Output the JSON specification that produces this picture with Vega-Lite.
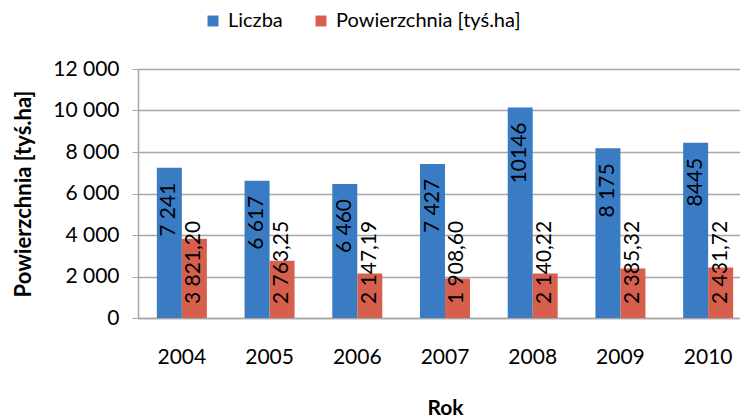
{
  "$schema": "https://vega.github.io/schema/vega-lite/v6.json",
  "autosize": {"type": "none"},
  "padding": {"left": 138, "top": 69, "right": 0, "bottom": 99},
  "width": 614,
  "height": 249,
  "background": "white",
  "config": {
    "font": "Lato",
    "view": {"stroke": null}
  },
  "data": {
    "values": [
      {"rok": "2004", "seria": "Liczba", "wartosc": 7241, "etykieta": "7 241"},
      {"rok": "2005", "seria": "Liczba", "wartosc": 6617, "etykieta": "6 617"},
      {"rok": "2006", "seria": "Liczba", "wartosc": 6460, "etykieta": "6 460"},
      {"rok": "2007", "seria": "Liczba", "wartosc": 7427, "etykieta": "7 427"},
      {"rok": "2008", "seria": "Liczba", "wartosc": 10146, "etykieta": "10146"},
      {"rok": "2009", "seria": "Liczba", "wartosc": 8175, "etykieta": "8 175"},
      {"rok": "2010", "seria": "Liczba", "wartosc": 8445, "etykieta": "8445"},
      {"rok": "2004", "seria": "Powierzchnia [tyś.ha]", "wartosc": 3821.20, "etykieta": "3 821,20"},
      {"rok": "2005", "seria": "Powierzchnia [tyś.ha]", "wartosc": 2763.25, "etykieta": "2 763,25"},
      {"rok": "2006", "seria": "Powierzchnia [tyś.ha]", "wartosc": 2147.19, "etykieta": "2 147,19"},
      {"rok": "2007", "seria": "Powierzchnia [tyś.ha]", "wartosc": 1908.60, "etykieta": "1 908,60"},
      {"rok": "2008", "seria": "Powierzchnia [tyś.ha]", "wartosc": 2140.22, "etykieta": "2 140,22"},
      {"rok": "2009", "seria": "Powierzchnia [tyś.ha]", "wartosc": 2385.32, "etykieta": "2 385,32"},
      {"rok": "2010", "seria": "Powierzchnia [tyś.ha]", "wartosc": 2431.72, "etykieta": "2 431,72"}
    ]
  },
  "encoding": {
    "x": {
      "field": "rok", "type": "nominal",
      "scale": {"paddingInner": 0.43, "paddingOuter": 0.215},
      "axis": {
        "title": "Rok", "titleFontSize": 21, "titleFontWeight": "bold", "titleColor": "#000000", "titlePadding": 30,
        "labelAngle": 0, "labelFontSize": 21, "labelColor": "#000000", "labelPadding": 28,
        "ticks": false, "domainColor": "#a6a6a6", "domainWidth": 1.5, "grid": false
      }
    },
    "xOffset": {"field": "seria", "type": "nominal", "sort": ["Liczba", "Powierzchnia [tyś.ha]"]},
    "y": {
      "field": "wartosc", "type": "quantitative",
      "scale": {"domain": [0, 12000], "nice": false},
      "axis": {
        "title": "Powierzchnia [tyś.ha]", "titleFontSize": 22, "titleFontWeight": "bold", "titleColor": "#000000", "titlePadding": 17,
        "values": [0, 2000, 4000, 6000, 8000, 10000, 12000],
        "labelExpr": "replace(format(datum.value, ',d'), ',', ' ')",
        "labelFontSize": 21, "labelColor": "#000000", "labelPadding": 13,
        "tickColor": "#a6a6a6", "tickSize": 6, "domainColor": "#a6a6a6", "domainWidth": 1.5,
        "gridColor": "#a6a6a6", "gridWidth": 1.5
      }
    }
  },
  "layer": [
    {
      "mark": {"type": "bar"},
      "encoding": {
        "color": {
          "field": "seria", "type": "nominal",
          "scale": {"domain": ["Liczba", "Powierzchnia [tyś.ha]"], "range": ["#3A7CC4", "#D6604D"]},
          "legend": {
            "title": null, "orient": "none", "direction": "horizontal",
            "legendX": 65, "legendY": -58,
            "symbolType": "square", "symbolSize": 120, "symbolStrokeWidth": 0,
            "labelFontSize": 20, "labelColor": "#000000", "labelOffset": 5, "labelLimit": 400,
            "columnPadding": 28
          }
        }
      }
    },
    {
      "transform": [{"filter": "datum.seria === 'Liczba'"}],
      "mark": {"type": "text", "angle": 270, "align": "right", "baseline": "middle", "dx": -15, "fontSize": 21, "color": "#000000"},
      "encoding": {"text": {"field": "etykieta"}}
    },
    {
      "transform": [{"filter": "datum.seria !== 'Liczba'"}],
      "mark": {"type": "text", "angle": 270, "align": "left", "baseline": "middle", "dx": 14, "fontSize": 21, "color": "#000000"},
      "encoding": {"text": {"field": "etykieta"}, "y": {"datum": 0, "type": "quantitative"}}
    }
  ]
}
